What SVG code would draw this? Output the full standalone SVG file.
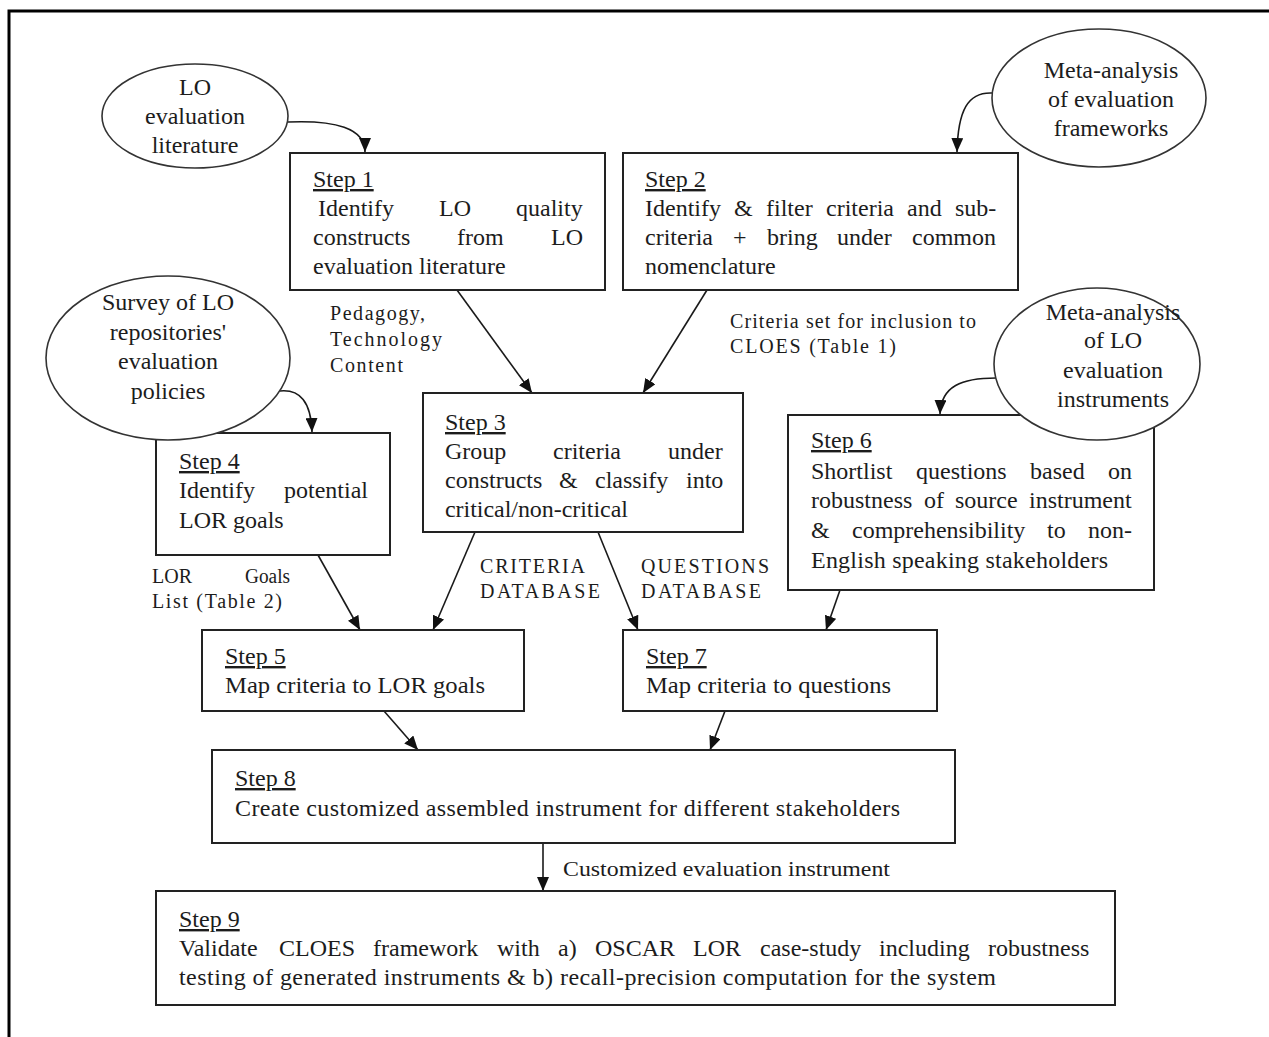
<svg xmlns="http://www.w3.org/2000/svg" width="1269" height="1037" viewBox="0 0 1269 1037">
  <defs>
    <marker id="arrow" markerUnits="userSpaceOnUse" markerWidth="14" markerHeight="12" refX="14" refY="6" orient="auto">
      <path d="M0,0 L14,6 L0,12 z" fill="#111"/>
    </marker>
    <style>
      .frame { fill: none; stroke: #000; stroke-width: 3; }
      .box { fill: #fff; stroke: #222; stroke-width: 2; }
      .src { fill: #fff; stroke: #333; stroke-width: 1.6; }
      .edge { fill: none; stroke: #1a1a1a; stroke-width: 1.6; marker-end: url(#arrow); }
      text { font-family: "Liberation Serif", "Times New Roman", serif; font-size: 24px; fill: #1c1c1c; }
      .mid { text-anchor: middle; }
      .lbl { font-size: 20px; }
      .step { text-decoration: underline; }
    </style>
  </defs>

  <!-- page frame -->
  <path class="frame" d="M9,1037 V11 H1269"/>

  <!-- connectors -->
  <g id="connectors">
    <path class="edge" d="M288,122 C335,120 365,128 365,152"/>
    <path class="edge" d="M992,93 C968,92 958,110 957,152"/>
    <path class="edge" d="M280,391 C300,389 311,402 312,432"/>
    <path class="edge" d="M996,378 C962,378 941,386 940,414"/>
    <path class="edge" d="M457,290 L532,393"/>
    <path class="edge" d="M707,290 L643,393"/>
    <path class="edge" d="M318,555 L360,630"/>
    <path class="edge" d="M475,532 L433,630"/>
    <path class="edge" d="M598,532 L638,630"/>
    <path class="edge" d="M840,590 L826,630"/>
    <path class="edge" d="M384,711 L418,750"/>
    <path class="edge" d="M725,711 L710,750"/>
    <path class="edge" d="M543,843 L543,891"/>
    <text class="lbl" x="330" y="320" textLength="95" lengthAdjust="spacing">Pedagogy,</text>
    <text class="lbl" x="330" y="346" textLength="112" lengthAdjust="spacing">Technology</text>
    <text class="lbl" x="330" y="372" textLength="73" lengthAdjust="spacing">Content</text>
    <text class="lbl" x="730" y="328" textLength="246" lengthAdjust="spacing">Criteria set for inclusion to</text>
    <text class="lbl" x="730" y="353" textLength="166" lengthAdjust="spacing">CLOES (Table 1)</text>
    <text class="lbl" x="152" y="583">LOR</text>
    <text class="lbl" x="245" y="583" textLength="45" lengthAdjust="spacingAndGlyphs">Goals</text>
    <text class="lbl" x="152" y="608" textLength="130" lengthAdjust="spacing">List (Table 2)</text>
    <text class="lbl" x="480" y="573" textLength="105" lengthAdjust="spacing">CRITERIA</text>
    <text class="lbl" x="480" y="598" textLength="120" lengthAdjust="spacing">DATABASE</text>
    <text class="lbl" x="641" y="573" textLength="128" lengthAdjust="spacing">QUESTIONS</text>
    <text class="lbl" x="641" y="598" textLength="120" lengthAdjust="spacing">DATABASE</text>
    <text class="lbl" x="563" y="876" textLength="327" lengthAdjust="spacingAndGlyphs">Customized evaluation instrument</text>
  </g>

  <!-- steps -->
  <g id="step1">
    <rect class="box" x="290" y="153" width="315" height="137"/>
    <text x="313" y="187" class="step">Step 1</text>
    <text y="216"><tspan x="318">Identify</tspan><tspan x="439">LO</tspan><tspan x="516">quality</tspan></text>
    <text y="245"><tspan x="313">constructs</tspan><tspan x="457">from</tspan><tspan x="551">LO</tspan></text>
    <text x="313" y="274">evaluation literature</text>
  </g>
  <g id="step2">
    <rect class="box" x="623" y="153" width="395" height="137"/>
    <text x="645" y="187" class="step">Step 2</text>
    <text y="216"><tspan x="645">Identify</tspan><tspan x="734">&amp;</tspan><tspan x="766">filter</tspan><tspan x="826">criteria</tspan><tspan x="907">and</tspan><tspan x="955">sub-</tspan></text>
    <text y="245"><tspan x="645">criteria</tspan><tspan x="733">+</tspan><tspan x="767">bring</tspan><tspan x="837">under</tspan><tspan x="912">common</tspan></text>
    <text x="645" y="274">nomenclature</text>
  </g>
  <g id="step3">
    <rect class="box" x="423" y="393" width="320" height="139"/>
    <text x="445" y="430" class="step">Step 3</text>
    <text y="459"><tspan x="445">Group</tspan><tspan x="553">criteria</tspan><tspan x="668">under</tspan></text>
    <text y="488"><tspan x="445">constructs</tspan><tspan x="559">&amp;</tspan><tspan x="595">classify</tspan><tspan x="686">into</tspan></text>
    <text x="445" y="517" textLength="183" lengthAdjust="spacing">critical/non-critical</text>
  </g>
  <g id="step4">
    <rect class="box" x="156" y="433" width="234" height="122"/>
    <text x="179" y="469" class="step">Step 4</text>
    <text y="498"><tspan x="179">Identify</tspan><tspan x="284">potential</tspan></text>
    <text x="179" y="528">LOR goals</text>
  </g>
  <g id="step6">
    <rect class="box" x="788" y="415" width="366" height="175"/>
    <text x="811" y="448" class="step">Step 6</text>
    <text y="479"><tspan x="811">Shortlist</tspan><tspan x="916">questions</tspan><tspan x="1030">based</tspan><tspan x="1108">on</tspan></text>
    <text y="508"><tspan x="811">robustness</tspan><tspan x="924">of</tspan><tspan x="955">source</tspan><tspan x="1029">instrument</tspan></text>
    <text y="538"><tspan x="811">&amp;</tspan><tspan x="852">comprehensibility</tspan><tspan x="1047">to</tspan><tspan x="1088">non-</tspan></text>
    <text x="811" y="568" textLength="297" lengthAdjust="spacing">English speaking stakeholders</text>
  </g>
  <g id="step5">
    <rect class="box" x="202" y="630" width="322" height="81"/>
    <text x="225" y="664" class="step">Step 5</text>
    <text x="225" y="693" textLength="260" lengthAdjust="spacingAndGlyphs">Map criteria to LOR goals</text>
  </g>
  <g id="step7">
    <rect class="box" x="623" y="630" width="314" height="81"/>
    <text x="646" y="664" class="step">Step 7</text>
    <text x="646" y="693" textLength="245" lengthAdjust="spacingAndGlyphs">Map criteria to questions</text>
  </g>
  <g id="step8">
    <rect class="box" x="212" y="750" width="743" height="93"/>
    <text x="235" y="786" class="step">Step 8</text>
    <text x="235" y="816" textLength="665" lengthAdjust="spacing">Create customized assembled instrument for different stakeholders</text>
  </g>
  <g id="step9">
    <rect class="box" x="156" y="891" width="959" height="114"/>
    <text x="179" y="927" class="step">Step 9</text>
    <text y="956"><tspan x="179">Validate</tspan><tspan x="279">CLOES</tspan><tspan x="373">framework</tspan><tspan x="497">with</tspan><tspan x="558">a)</tspan><tspan x="595">OSCAR</tspan><tspan x="693">LOR</tspan><tspan x="760">case-study</tspan><tspan x="879">including</tspan><tspan x="988">robustness</tspan></text>
    <text x="179" y="985" textLength="817" lengthAdjust="spacing">testing of generated instruments &amp; b) recall-precision computation for the system</text>
  </g>

  <!-- sources (drawn last: they sit over the box corners they touch) -->
  <g id="src-lo-literature">
    <ellipse class="src" cx="195" cy="116" rx="93" ry="52"/>
    <text class="mid" x="195" y="95">LO</text>
    <text class="mid" x="195" y="124">evaluation</text>
    <text class="mid" x="195" y="153">literature</text>
  </g>
  <g id="src-frameworks">
    <ellipse class="src" cx="1099" cy="98" rx="107" ry="69"/>
    <text class="mid" x="1111" y="78">Meta-analysis</text>
    <text class="mid" x="1111" y="107">of evaluation</text>
    <text class="mid" x="1111" y="136">frameworks</text>
  </g>
  <g id="src-survey">
    <ellipse class="src" cx="168" cy="358" rx="122" ry="82"/>
    <text class="mid" x="168" y="310">Survey of LO</text>
    <text class="mid" x="168" y="340">repositories'</text>
    <text class="mid" x="168" y="369">evaluation</text>
    <text class="mid" x="168" y="399">policies</text>
  </g>
  <g id="src-instruments">
    <ellipse class="src" cx="1097" cy="364" rx="103" ry="76"/>
    <text class="mid" x="1113" y="320">Meta-analysis</text>
    <text class="mid" x="1113" y="348">of LO</text>
    <text class="mid" x="1113" y="378">evaluation</text>
    <text class="mid" x="1113" y="407">instruments</text>
  </g>
</svg>
